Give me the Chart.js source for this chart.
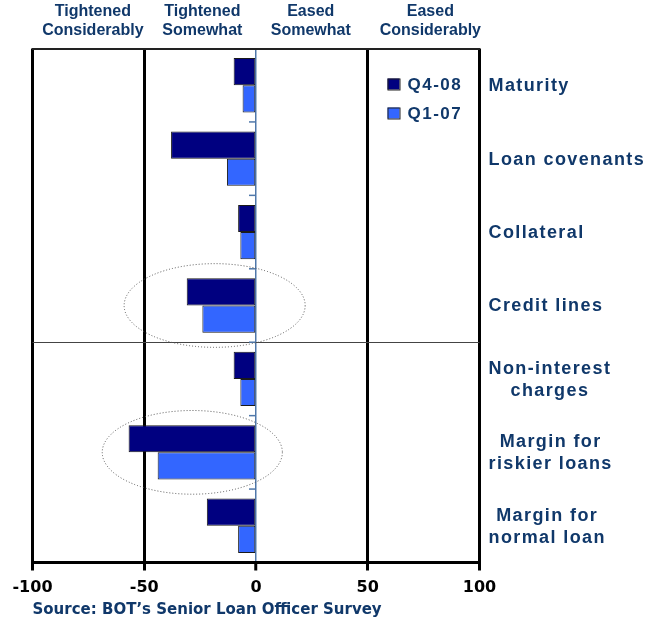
<!DOCTYPE html>
<html>
<head>
<meta charset="utf-8">
<script src="https://cdn.jsdelivr.net/npm/chart.js@4"></script>
<style>
html,body{margin:0;padding:0;background:#fff;}
</style>
</head>
<body>
<canvas id="chart" width="665" height="625"></canvas>
<script>
const categories = [
    "Maturity",
    "Loan covenants",
    "Collateral",
    "Credit lines",
    ["Non-interest", "charges"],
    ["Margin for", "riskier loans"],
    ["Margin for", "normal loan"]
];
const q408 = [-10, -38, -8, -31, -10, -57, -22];
const q107 = [-6, -13, -7, -24, -7, -44, -8];
const seriesNames = ["Q4-08", "Q1-07"];

const headerValues = [-73, -24, 24.5, 78];
const headerLabels = [
    ["Tightened", "Considerably"],
    ["Tightened", "Somewhat"],
    ["Eased", "Somewhat"],
    ["Eased", "Considerably"]
];
const sourceText = "Source: BOT\u2019s Senior Loan Officer Survey";

// annotations: dotted ellipses round two categories, divider under "Credit lines"
const ellipses = [
    {cat: 3, x: -18.5, rx: 40.5, ry: 0.57},
    {cat: 5, x: -28.5, rx: 40.3, ry: 0.57}
];
const dividerAfter = 3;

const navy = "#10386A";
const zeroColor = "#5078AA";

const extras = {
    id: "extras",
    beforeDatasetsDraw(chart) {
        const ctx = chart.ctx, area = chart.chartArea;
        const x = chart.scales.x, y = chart.scales.y;
        const x0 = x.getPixelForValue(0);
        ctx.save();
        // divider line
        const yd = (y.getPixelForValue(dividerAfter) + y.getPixelForValue(dividerAfter + 1)) / 2;
        ctx.strokeStyle = "#444";
        ctx.lineWidth = 1;
        ctx.beginPath();
        ctx.moveTo(area.left, Math.round(yd) + 0.5);
        ctx.lineTo(area.right, Math.round(yd) + 0.5);
        ctx.stroke();
        // small category ticks on the zero line
        ctx.strokeStyle = zeroColor;
        ctx.lineWidth = 1.5;
        for (let i = 1; i < categories.length; i++) {
            const yy = (y.getPixelForValue(i - 1) + y.getPixelForValue(i)) / 2;
            ctx.beginPath();
            ctx.moveTo(x0 - 7, yy);
            ctx.lineTo(x0, yy);
            ctx.stroke();
        }
        ctx.restore();
    },
    afterDatasetsDraw(chart) {
        const ctx = chart.ctx;
        const x = chart.scales.x, y = chart.scales.y;
        const band = y.getPixelForValue(1) - y.getPixelForValue(0);
        ctx.save();
        ctx.strokeStyle = "#555";
        ctx.lineWidth = 1;
        ctx.setLineDash([1, 2]);
        ellipses.forEach(e => {
            const cx = x.getPixelForValue(e.x);
            const rx = x.getPixelForValue(e.x + e.rx) - cx;
            const cy = y.getPixelForValue(e.cat);
            ctx.beginPath();
            ctx.ellipse(cx, cy, rx, e.ry * band, 0, 0, Math.PI * 2);
            ctx.stroke();
        });
        ctx.restore();
    },
    afterDraw(chart) {
        const ctx = chart.ctx, area = chart.chartArea;
        const y = chart.scales.y;
        ctx.save();
        // category labels on the right
        ctx.font = "bold 18px 'Liberation Sans', Arial, sans-serif";
        ctx.letterSpacing = "1.4px";
        ctx.fillStyle = navy;
        ctx.textAlign = "center";
        ctx.textBaseline = "middle";
        const lh = 22;
        categories.forEach((c, i) => {
            const lines = Array.isArray(c) ? c : [c];
            const w = Math.max(...lines.map(l => ctx.measureText(l).width));
            const left = area.right + 9;
            const cy = y.getPixelForValue(i);
            lines.forEach((l, j) => {
                ctx.fillText(l, left + w / 2, cy + (j - (lines.length - 1) / 2) * lh + 1);
            });
        });
        // legend inside the plot
        ctx.font = "bold 17px 'Liberation Sans', Arial, sans-serif";
        ctx.letterSpacing = "1.5px";
        ctx.textAlign = "left";
        chart.data.datasets.forEach((ds, i) => {
            const bx = area.right - 92, by = area.top + 30 + i * 29;
            ctx.fillStyle = ds.backgroundColor;
            ctx.fillRect(bx, by, 12, 11);
            ctx.strokeStyle = "#222";
            ctx.lineWidth = 1;
            ctx.strokeRect(bx + 0.5, by + 0.5, 12, 11);
            ctx.fillStyle = navy;
            ctx.fillText(ds.label, bx + 20, by + 7);
        });
        ctx.restore();
    }
};

new Chart(document.getElementById("chart"), {
    type: "bar",
    data: {
        labels: categories,
        datasets: [
            {label: seriesNames[0], data: q408, backgroundColor: "#000080", borderColor: "#1a1a1a", borderWidth: 1, borderSkipped: false},
            {label: seriesNames[1], data: q107, backgroundColor: "#3366FF", borderColor: "#1a1a1a", borderWidth: 1, borderSkipped: false}
        ]
    },
    options: {
        indexAxis: "y",
        responsive: false,
        animation: false,
        layout: {padding: {left: 32.5, right: 0, top: 0, bottom: 3}},
        datasets: {bar: {barPercentage: 1, categoryPercentage: 0.74}},
        scales: {
            x: {
                type: "linear",
                min: -100, max: 100,
                ticks: {stepSize: 50, color: "#000", padding: 8, font: {family: "'DejaVu Sans', sans-serif", weight: "bold", size: 16}},
                grid: {
                    color: c => (c.tick && c.tick.value === 0) ? zeroColor : "#000",
                    lineWidth: c => (c.tick && c.tick.value === 0) ? 1.5 : 3,
                    tickColor: "#000", tickWidth: 3, tickLength: 8
                },
                border: {color: "#000", width: 3},
                afterFit(s) { s.height = 36.5; }
            },
            x2: {
                type: "linear",
                position: "top",
                min: -100, max: 100,
                grid: {drawOnChartArea: false, drawTicks: false},
                border: {display: true, color: "#222", width: 2},
                afterBuildTicks(s) { s.ticks = headerValues.map(v => ({value: v})); },
                ticks: {
                    autoSkip: false, maxRotation: 0, padding: 9, color: navy,
                    font: {family: "'Liberation Sans', Arial, sans-serif", weight: "bold", size: 16, lineHeight: 1.15},
                    callback: (v, i) => headerLabels[i]
                },
                afterFit(s) { s.height = 48.5; }
            },
            y: {
                position: "right",
                offset: true,
                grid: {display: false},
                border: {display: false},
                ticks: {display: false},
                afterFit(s) { s.width = 185.5; }
            }
        },
        plugins: {
            legend: {display: false},
            tooltip: {enabled: false},
            title: {
                display: true, position: "bottom", align: "start", fullSize: false,
                text: sourceText, color: navy,
                font: {family: "'DejaVu Sans', sans-serif", weight: "bold", size: 15, lineHeight: 1.2},
                padding: {top: 2, bottom: 3}
            }
        }
    },
    plugins: [extras]
});
</script>
</body>
</html>
